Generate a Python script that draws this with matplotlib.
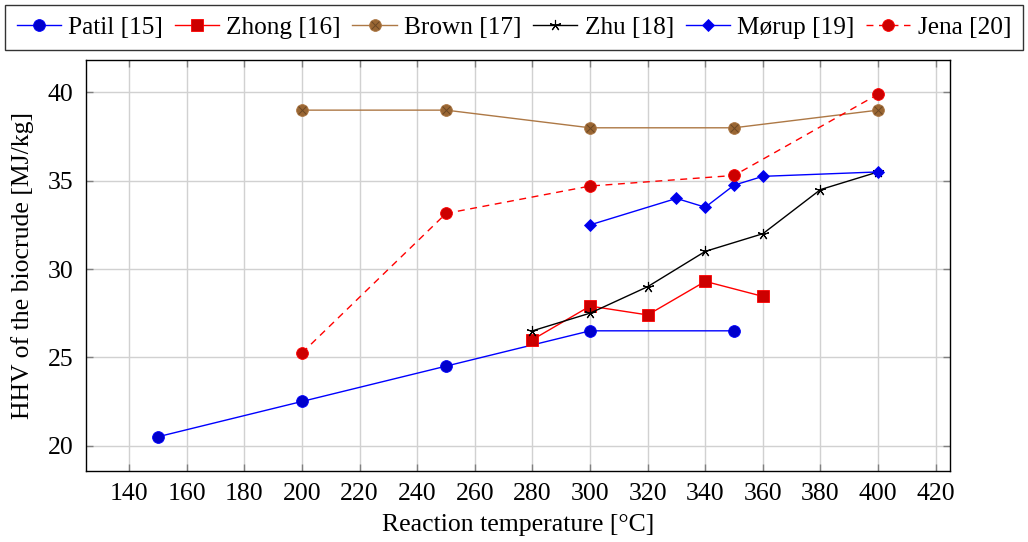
import matplotlib
matplotlib.use('Agg')
import matplotlib.pyplot as plt
from matplotlib.legend_handler import HandlerTuple

plt.rcParams['font.family'] = ['Liberation Serif', 'DejaVu Serif']
plt.rcParams['mathtext.fontset'] = 'stix'

# HHV of biocrude vs reaction temperature, literature values
patil_T = [150, 200, 250, 300, 350]
patil_hhv = [20.5, 22.5, 24.5, 26.5, 26.5]

zhong_T = [280, 300, 320, 340, 360]
zhong_hhv = [26.0, 27.9, 27.4, 29.3, 28.45]

brown_T = [200, 250, 300, 350, 400]
brown_hhv = [39.0, 39.0, 38.0, 38.0, 39.0]

zhu_T = [280, 300, 320, 340, 360, 380, 400]
zhu_hhv = [26.5, 27.5, 29.0, 31.0, 32.0, 34.5, 35.5]

morup_T = [300, 330, 340, 350, 360, 400]
morup_hhv = [32.5, 34.0, 33.5, 34.75, 35.25, 35.5]

jena_T = [200, 250, 300, 350, 400]
jena_hhv = [25.25, 33.15, 34.7, 35.3, 39.9]

x_ticks = list(range(140, 421, 20))
y_ticks = [20, 25, 30, 35, 40]

blue = (0, 0, 1)
red = (1, 0, 0)
brown = (0.68, 0.47, 0.27)
brown_dark = (0.6, 0.4, 0.2)

fig = plt.figure(figsize=(10.28, 5.42), dpi=100)
ax = fig.add_axes([0.0837, 0.131, 0.8405, 0.7583])

lw = 1.0
ax.plot(patil_T, patil_hhv, color=blue, lw=lw, marker='o', ms=8.5,
        mfc=(0, 0, 0.8), mec=blue, mew=0.6, label='Patil [15]')
ax.plot(zhong_T, zhong_hhv, color=red, lw=lw, marker='s', ms=8.5,
        mfc=(0.8, 0, 0), mec=red, mew=0.6, label='Zhong [16]')
brown_line, = ax.plot(brown_T, brown_hhv, color=brown, lw=lw, marker='o', ms=8.5,
                      mfc=brown_dark, mec=brown, mew=0.6)
# crossed circle marks (otimes) for Brown
brown_cross, = ax.plot(brown_T, brown_hhv, ls='none', marker='x', ms=5.5,
                       mec=(0.42, 0.28, 0.14), mew=0.7)
ax.plot(zhu_T, zhu_hhv, color='black', lw=lw, marker=(5, 2, 0), ms=8,
        mec='black', mew=0.8, label='Zhu [18]')
ax.plot(morup_T, morup_hhv, color=blue, lw=lw, marker='D', ms=6.5,
        mfc=(0, 0, 0.9), mec=blue, mew=0.6, label='Mørup [19]')
ax.plot(jena_T, jena_hhv, color=red, lw=lw, ls=(0, (5, 4)), marker='o', ms=8.5,
        mfc=(0.8, 0, 0), mec=red, mew=0.6, label='Jena [20]')

ax.set_xlim(125, 425)
ax.set_ylim(18.56, 41.84)
ax.set_xticks(x_ticks)
ax.set_yticks(y_ticks)
ax.grid(True, color=(0.82, 0.82, 0.82), lw=1.0)
ax.set_axisbelow(True)
ax.tick_params(direction='in', length=5, width=1.0, color=(0.5, 0.5, 0.5),
               top=True, right=True, labelsize=18.5, pad=9)
for s in ax.spines.values():
    s.set_linewidth(1.0)

ax.set_xlabel('Reaction temperature [°C]', fontsize=18.5, labelpad=6)
ax.set_ylabel('HHV of the biocrude [MJ/kg]', fontsize=18.5, labelpad=10)

handles, labels = ax.get_legend_handles_labels()
handles.insert(2, (brown_line, brown_cross))
labels.insert(2, 'Brown [17]')

leg = fig.legend(handles, labels, loc='upper center', bbox_to_anchor=(0.5, 0.991),
                 ncol=6, fontsize=18.2, frameon=True, fancybox=False,
                 edgecolor='black', handlelength=1.75, handletextpad=0.3,
                 columnspacing=0.45, borderpad=0.45, numpoints=1, borderaxespad=0,
                 handler_map={tuple: HandlerTuple(ndivide=1)})
leg.get_frame().set_linewidth(1.0)

fig.savefig('out.png', dpi=100)
